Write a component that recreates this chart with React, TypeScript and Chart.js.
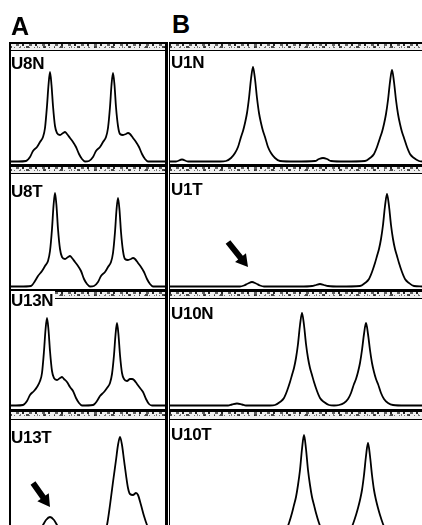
import React, { useEffect, useRef } from "react";
import { Chart, registerables } from "chart.js";
Chart.register(...registerables);

// ---------- DATA (x = migration position within panel, y = signal) ----------
// Panel A
const u8nX = [0, 8, 16, 20, 23, 27, 30, 33, 35, 37, 38.5, 40, 41.5, 43, 45, 47, 50, 53, 55, 57, 60, 63, 66, 69, 72, 75, 79, 83, 86, 90, 93, 96, 98, 100, 101.5, 103, 104.5, 106, 108, 110, 113, 116, 118, 120, 123, 126, 129, 132, 135, 138, 155];
const u8nY = [0.5, 0.5, 1, 5, 11, 15, 20, 25, 34, 56, 77, 90, 77, 56, 36, 29, 27, 29, 30, 28, 24, 20, 15, 8, 3, 0.5, 1, 5, 11, 15, 20, 25, 34, 55, 77, 89, 77, 55, 36, 28, 27, 28, 29, 28, 24, 20, 15, 8, 3, 0.5, 0.5];

const u8tX = [0, 10, 21, 25, 28, 32, 35, 38, 40, 42, 43.5, 45, 46.5, 48, 50, 52, 55, 58, 60, 62, 65, 68, 71, 74, 77, 80, 84, 88, 91, 95, 98, 101, 103, 105, 106.5, 108, 109.5, 111, 113, 115, 118, 121, 123, 125, 128, 131, 134, 137, 140, 143, 155];
const u8tY = [0.5, 0.5, 1, 6, 11, 16, 21, 26, 36, 58, 81, 94, 81, 58, 38, 30, 28, 30, 31, 29, 25, 21, 16, 8, 3, 0.5, 1, 5, 11, 15, 20, 25, 34, 55, 77, 89, 77, 55, 36, 28, 27, 28, 29, 28, 24, 20, 15, 8, 3, 0.5, 0.5];

const u13nX = [0, 6, 13, 17, 20, 24, 27, 30, 32, 34, 35.5, 37, 38.5, 40, 42, 44, 47, 50, 52, 54, 57, 60, 63, 66, 69, 72, 83, 87, 90, 94, 97, 100, 102, 104, 105.5, 107, 108.5, 110, 112, 114, 117, 120, 122, 124, 127, 130, 133, 136, 139, 142, 155];
const u13nY = [0.5, 0.5, 1, 5, 11, 15, 19, 25, 33, 55, 76, 88, 76, 55, 35, 28, 26, 28, 29, 27, 24, 19, 15, 8, 3, 0.5, 1, 5, 10, 14, 18, 23, 32, 51, 71, 83, 71, 51, 33, 27, 25, 27, 27, 26, 22, 18, 14, 7, 2, 0.5, 0.5];

const u13tX = [0, 10, 20, 26, 30, 33, 36, 40, 44, 47, 50, 54, 60, 68, 80, 85, 90, 94, 97, 100, 103, 106, 108, 110, 112, 114, 116, 118, 120, 123, 126, 128, 131, 134, 137, 141, 146, 155];
const u13tY = [0.5, 0.5, 1, 5, 10, 15, 20, 23, 20, 15, 10, 5, 2, 1, 0.5, 0.5, 2, 7, 15, 35, 58, 80, 95, 103, 95, 80, 65, 52, 46, 45, 47, 45, 35, 24, 15, 6, 1, 0.5];

// Panel B
const u1nX = [0, 6, 12, 18, 30, 50, 56, 61, 65, 68, 71, 73, 75, 77, 79, 81, 83, 85, 87, 89, 91, 93, 95, 98, 101, 105, 110, 125, 145, 149, 153, 157, 161, 175, 195, 200, 204, 207, 210, 212, 214, 216, 218, 220, 222, 224, 226, 228, 230, 232, 234, 237, 240, 244, 249, 252];
const u1nY = [0.5, 0.5, 2.5, 0.5, 0.5, 0.5, 1, 4, 9, 15, 25, 31, 39, 49, 64, 83, 95, 83, 64, 49, 39, 31, 25, 15, 9, 4, 1, 0.5, 1, 3, 4, 3, 1, 0.5, 1, 4, 8, 15, 24, 30, 38, 48, 62, 80, 92, 80, 62, 48, 38, 30, 24, 15, 8, 4, 1, 0.5];

const u1tX = [0, 20, 40, 60, 70, 74, 78, 82, 86, 90, 94, 110, 130, 142, 146, 150, 154, 158, 170, 190, 195, 199, 202, 205, 207, 209, 211, 213, 215, 217, 219, 221, 223, 225, 227, 229, 232, 235, 239, 244, 252];
const u1tY = [0.5, 0.5, 0.5, 0.5, 0.5, 1.5, 3.5, 5, 3.5, 1.5, 0.5, 0.5, 0.5, 1, 2, 3, 2, 1, 0.5, 1, 4, 8, 15, 24, 31, 38, 48, 62, 81, 93, 81, 62, 48, 38, 31, 24, 15, 8, 4, 1, 0.5];

const u10nX = [0, 40, 58, 62, 67, 72, 76, 100, 105, 110, 114, 117, 120, 122, 124, 126, 128, 130, 132, 134, 136, 138, 140, 142, 144, 147, 150, 154, 159, 164, 169, 174, 178, 181, 184, 186, 188, 190, 192, 194, 196, 198, 200, 202, 204, 206, 208, 211, 214, 218, 223, 235, 252];
const u10nY = [0.5, 0.5, 0.5, 1.5, 2.5, 1.5, 0.5, 0.5, 1, 4, 8, 15, 24, 31, 38, 48, 62, 81, 93, 81, 62, 48, 38, 31, 24, 15, 8, 4, 1, 0.5, 1, 3, 7, 13, 22, 27, 34, 43, 56, 72, 83, 72, 56, 43, 34, 27, 22, 13, 7, 3, 1, 0.5, 0.5];

const u10tX = [0, 60, 100, 107, 112, 116, 119, 122, 124, 126, 128, 130, 132, 134, 136, 138, 140, 142, 144, 146, 149, 152, 156, 161, 166, 171, 176, 180, 183, 186, 188, 190, 192, 194, 196, 198, 200, 202, 204, 206, 208, 210, 213, 216, 220, 225, 240, 252];
const u10tY = [0.5, 0.5, 0.5, 1, 4, 9, 17, 27, 35, 43, 55, 70, 91, 105, 91, 70, 55, 43, 35, 27, 17, 9, 4, 1, 0.5, 1, 4, 9, 16, 25, 32, 40, 50, 65, 84, 97, 84, 65, 50, 40, 32, 25, 16, 9, 4, 1, 0.5, 0.5];

// Arrow annotations (data coordinates: tail -> tip)
const u1tArrow = { tailX: 58, tailY: 45, tipX: 78, tipY: 20 };
const u13tArrow = { tailX: 23, tailY: 57, tipX: 40, tipY: 33 };

const panelLabels = ["U8N", "U8T", "U13N", "U13T", "U1N", "U1T", "U10N", "U10T"];

// ---------- LAYOUT ----------
const ROWS = [
  { stripTop: 42, plotTop: 51, base: 162, border: 2 },
  { stripTop: 164, plotTop: 174, base: 287, border: 3 },
  { stripTop: 289, plotTop: 299, base: 406, border: 3 },
  { stripTop: 409, plotTop: 420, base: 540, border: 3 },
];
const COLS = [
  { left: 10, width: 155 },
  { left: 170, width: 252 },
];

const PANELS = [
  { col: 0, row: 0, label: panelLabels[0], xs: u8nX, ys: u8nY, capTop: 57 },
  { col: 0, row: 1, label: panelLabels[1], xs: u8tX, ys: u8tY, capTop: 185 },
  { col: 0, row: 2, label: panelLabels[2], xs: u13nX, ys: u13nY, capTop: 294, white: true },
  { col: 0, row: 3, label: panelLabels[3], xs: u13tX, ys: u13tY, capTop: 431, arrow: u13tArrow },
  { col: 1, row: 0, label: panelLabels[4], xs: u1nX, ys: u1nY, capTop: 56 },
  { col: 1, row: 1, label: panelLabels[5], xs: u1tX, ys: u1tY, capTop: 183, arrow: u1tArrow },
  { col: 1, row: 2, label: panelLabels[6], xs: u10nX, ys: u10nY, capTop: 307 },
  { col: 1, row: 3, label: panelLabels[7], xs: u10tX, ys: u10tY, capTop: 428 },
];

function arrowPlugin(arrow: any) {
  return {
    id: "arrowMark",
    afterDatasetsDraw(chart: any) {
      if (!arrow) return;
      const { ctx, scales } = chart;
      const sx = scales.x.getPixelForValue(arrow.tailX);
      const sy = scales.y.getPixelForValue(arrow.tailY);
      const tx = scales.x.getPixelForValue(arrow.tipX);
      const ty = scales.y.getPixelForValue(arrow.tipY);
      const ang = Math.atan2(ty - sy, tx - sx);
      const len = Math.hypot(tx - sx, ty - sy);
      const headLen = 12, headW = 7, shaftW = 3;
      ctx.save();
      ctx.translate(sx, sy);
      ctx.rotate(ang);
      ctx.beginPath();
      ctx.moveTo(0, -shaftW);
      ctx.lineTo(len - headLen, -shaftW);
      ctx.lineTo(len - headLen, -headW);
      ctx.lineTo(len, 0);
      ctx.lineTo(len - headLen, headW);
      ctx.lineTo(len - headLen, shaftW);
      ctx.lineTo(0, shaftW);
      ctx.closePath();
      ctx.fillStyle = "#000";
      ctx.fill();
      ctx.restore();
    },
  };
}

function Trace({ xs, ys, left, top, width, height, yMax, arrow }: any) {
  const ref = useRef<HTMLCanvasElement>(null);
  useEffect(() => {
    const chart = new Chart(ref.current as HTMLCanvasElement, {
      type: "line",
      data: {
        datasets: [
          {
            data: xs.map((x: number, i: number) => ({ x, y: ys[i] })),
            borderColor: "#000",
            borderWidth: 1.8,
            pointRadius: 0,
            cubicInterpolationMode: "monotone",
            fill: false,
            clip: false,
          } as any,
        ],
      },
      options: {
        responsive: false,
        animation: false,
        events: [],
        layout: { padding: 0 },
        plugins: { legend: { display: false }, tooltip: { enabled: false } },
        scales: {
          x: { type: "linear", min: 0, max: width, display: false },
          y: { type: "linear", min: -2, max: yMax, display: false },
        },
      } as any,
      plugins: [arrowPlugin(arrow)],
    });
    return () => chart.destroy();
  }, []);
  return (
    <canvas
      ref={ref}
      width={width}
      height={height}
      style={{ position: "absolute", left, top, width, height }}
    />
  );
}

const stripPattern = {
  backgroundColor: "#f0f0f0",
  backgroundImage: [
    "repeating-linear-gradient(90deg, rgba(0,0,0,0.85) 0 2px, transparent 2px 7px, rgba(0,0,0,0.6) 7px 10px, transparent 10px 13px)",
    "repeating-linear-gradient(90deg, rgba(0,0,0,0.7) 0 3px, transparent 3px 11px, rgba(0,0,0,0.5) 11px 12px, transparent 12px 17px)",
    "repeating-linear-gradient(90deg, rgba(0,0,0,0.55) 0 1px, transparent 1px 5px)",
  ].join(","),
  backgroundRepeat: "no-repeat",
  backgroundPosition: "0 0px, 0 2px, 0 3px",
  backgroundSize: "100% 2px, 100% 2px, 100% 1px",
};

export default function App() {
  const font = '"Liberation Sans", Arial, Helvetica, sans-serif';
  return (
    <div
      style={{
        position: "fixed",
        left: 0,
        top: 0,
        width: 422,
        height: 525,
        overflow: "hidden",
        background: "#fff",
        fontFamily: font,
      }}
    >
      {/* traces */}
      {PANELS.map((p, i) => {
        const r = ROWS[p.row];
        const c = COLS[p.col];
        const h = r.base + 2 - r.plotTop;
        return (
          <Trace
            key={"t" + i}
            xs={p.xs}
            ys={p.ys}
            left={c.left}
            top={r.plotTop}
            width={c.width}
            height={h}
            yMax={r.base - r.plotTop}
            arrow={(p as any).arrow}
          />
        );
      })}

      {/* header strips */}
      {ROWS.map((r, ri) =>
        COLS.map((c, ci) => (
          <div
            key={"s" + ri + "-" + ci}
            style={{
              position: "absolute",
              left: c.left - 1,
              top: r.stripTop,
              width: c.width + 1,
              height: r.plotTop - r.stripTop,
              boxSizing: "border-box",
              borderTop: `${r.border}px solid #000`,
              borderBottom: "1.5px solid #000",
              ...stripPattern,
            }}
          />
        ))
      )}

      {/* vertical frame lines */}
      <div style={{ position: "absolute", left: 9, top: 42, width: 1.5, height: 500, background: "#000" }} />
      <div style={{ position: "absolute", left: 165, top: 42, width: 2.5, height: 500, background: "#000" }} />
      <div style={{ position: "absolute", left: 168.5, top: 42, width: 1.2, height: 500, background: "#000" }} />

      {/* figure letters */}
      <div style={{ position: "absolute", left: 11, top: 14, fontSize: 25, lineHeight: "25px", fontWeight: 700 }}>A</div>
      <div style={{ position: "absolute", left: 172, top: 12, fontSize: 25, lineHeight: "25px", fontWeight: 700 }}>B</div>

      {/* panel labels */}
      {PANELS.map((p, i) => {
        const c = COLS[p.col];
        const white = (p as any).white;
        return (
          <div
            key={"l" + i}
            style={{
              position: "absolute",
              left: c.left + 1,
              top: white ? p.capTop - 3 : p.capTop - 2,
              fontSize: 17,
              lineHeight: white ? "19px" : "17px",
              fontWeight: 700,
              letterSpacing: -0.3,
              background: white ? "#fff" : "transparent",
              paddingRight: white ? 2 : 0,
              color: "#000",
            }}
          >
            {p.label}
          </div>
        );
      })}
    </div>
  );
}
